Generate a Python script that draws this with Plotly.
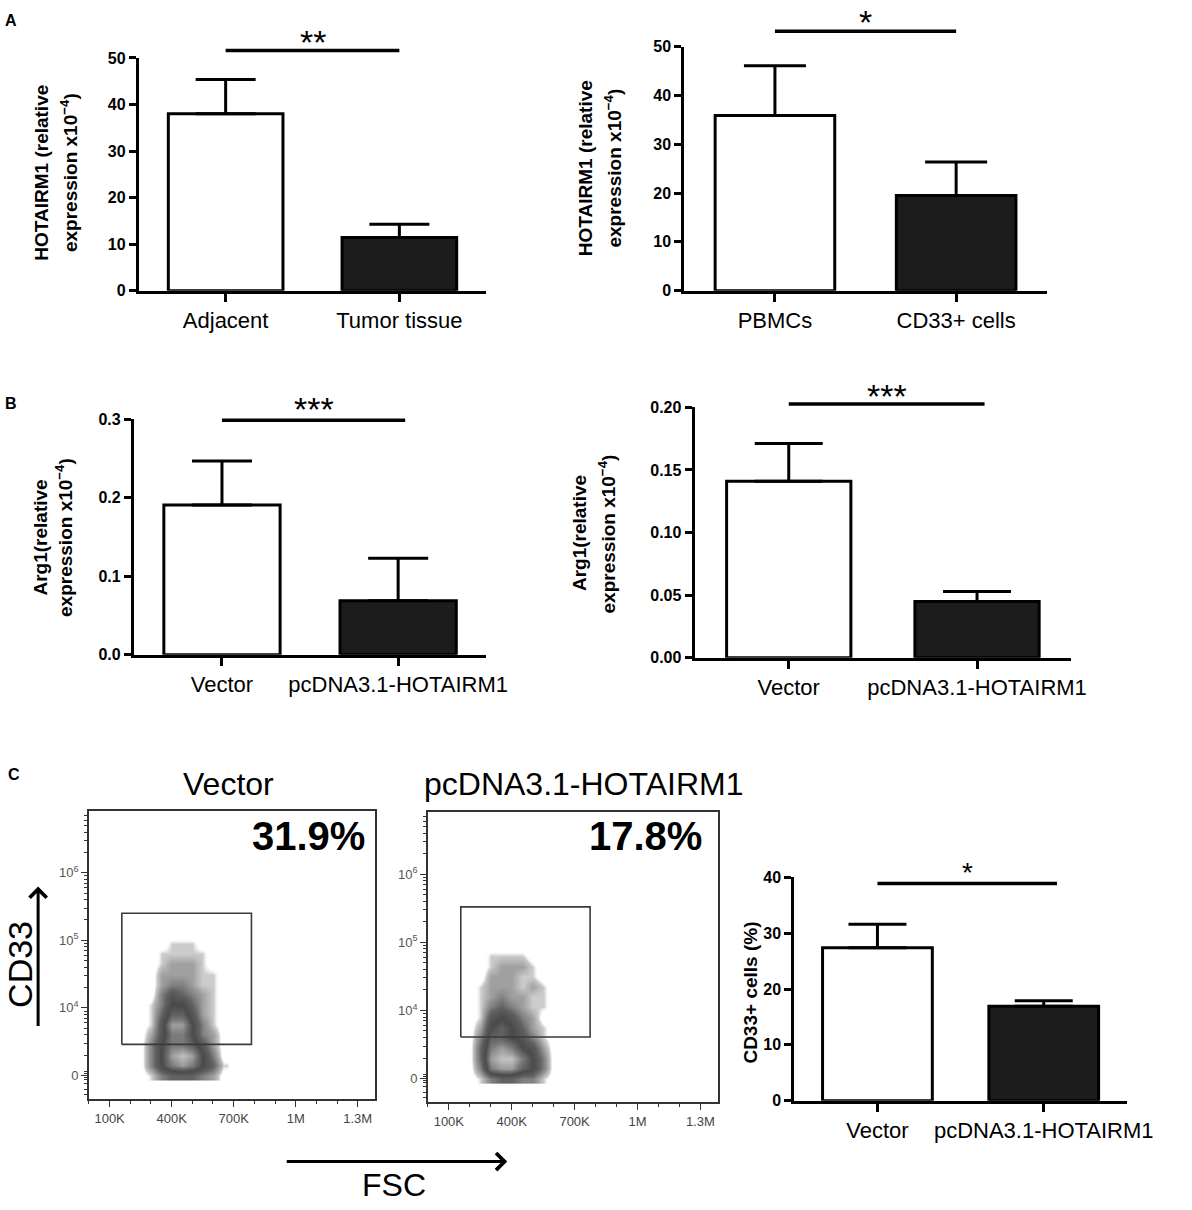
import math
import plotly.graph_objects as go

# ---------------- data ----------------
A1_CATS = ["Adjacent", "Tumor tissue"]
A1_MEAN = [38.0, 11.4]
A1_ERR = [7.4, 2.9]

A2_CATS = ["PBMCs", "CD33+ cells"]
A2_MEAN = [35.9, 19.5]
A2_ERR = [10.2, 6.9]

B_CATS = ["Vector", "pcDNA3.1-HOTAIRM1"]
B1_MEAN = [0.191, 0.069]
B1_ERR = [0.056, 0.054]
B2_MEAN = [0.141, 0.045]
B2_ERR = [0.030, 0.008]

C_CATS = ["Vector", "pcDNA3.1-HOTAIRM1"]
C_MEAN = [27.4, 16.9]
C_ERR = [4.2, 1.0]

SIG_LABELS = ["**", "*", "***", "***", "*"]
SIG_HEIGHT = [51.6, 53.2, 0.299, 0.2026, 38.9]
SIG_FROM = [0, 0, 0, 0, 0]
SIG_TO = [1, 1, 1.04, 1.04, 1.08]
STAR_HEIGHT = [53.5, 55.1, 0.313, 0.2087, 40.8]

Y_TITLES = [
    ["HOTAIRM1 (relative", "expression x10<sup>−4</sup>)"],
    ["HOTAIRM1 (relative", "expression x10<sup>−4</sup>)"],
    ["Arg1(relative", "expression x10<sup>−4</sup>)"],
    ["Arg1(relative", "expression x10<sup>−4</sup>)"],
    ["CD33+ cells (%)"],
]

FLOW_TITLES = ["Vector", "pcDNA3.1-HOTAIRM1"]
FLOW_PERCENT = ["31.9%", "17.8%"]
FSC_TICKS = [1e5, 4e5, 7e5, 1e6, 1.3e6]
FSC_TICK_LABELS = ["100K", "400K", "700K", "1M", "1.3M"]
CD33_TICKS = [3, 4, 5, 6]
CD33_TICK_LABELS = ["0", "10<sup>4</sup>", "10<sup>5</sup>", "10<sup>6</sup>"]

GATE_FSC = [[159e3, 786e3], [157e3, 774e3]]
GATE_CD33 = [[3.46, 5.40], [3.61, 5.52]]

# estimated event density of the dot clouds (rows: CD33 display level, cols: FSC)
VEC_FSC = [250e3, 300e3, 350e3, 400e3, 450e3, 500e3, 550e3, 600e3, 650e3]
VEC_CD33 = [3.00, 3.15, 3.30, 3.45, 3.60, 3.75, 3.90, 4.05, 4.20, 4.35, 4.50, 4.65, 4.80, 4.95, 5.10]
VEC_DENSITY = [
    [0, 1, 3, 4, 4, 4, 3, 2, 0],
    [0, 3, 6, 8, 9, 8, 6, 4, 1],
    [0, 3, 6, 9, 10, 9, 6, 3, 0],
    [0, 3, 6, 8, 8, 7, 5, 2, 0],
    [0, 2, 5, 8, 8, 6, 3, 2, 0],
    [0, 1, 5, 9, 9, 6, 3, 1, 0],
    [0, 1, 4, 7, 7, 5, 2, 1, 0],
    [0, 1, 3, 6, 6, 4, 2, 1, 0],
    [0, 0, 3, 5, 4, 3, 2, 1, 0],
    [0, 0, 2, 3, 3, 2, 1, 1, 0],
    [0, 0, 2, 2, 2, 2, 1, 1, 0],
    [0, 0, 1, 2, 2, 2, 1, 0, 0],
    [0, 0, 1, 1, 1, 1, 1, 0, 0],
    [0, 0, 0, 1, 1, 1, 0, 0, 0],
    [0, 0, 0, 0, 0, 0, 0, 0, 0],
]
HOT_FSC = [200e3, 250e3, 300e3, 350e3, 400e3, 450e3, 500e3, 550e3, 600e3]
HOT_CD33 = [3.00, 3.15, 3.30, 3.45, 3.60, 3.75, 3.90, 4.05, 4.20, 4.35, 4.50, 4.65, 4.80, 4.95]
HOT_DENSITY = [
    [0, 1, 3, 4, 4, 3, 3, 1, 0],
    [0, 3, 8, 9, 9, 7, 6, 3, 0],
    [0, 4, 9, 10, 10, 8, 6, 3, 0],
    [0, 4, 8, 9, 8, 6, 5, 2, 0],
    [0, 3, 7, 7, 6, 5, 3, 1, 0],
    [0, 2, 6, 7, 6, 4, 2, 1, 0],
    [0, 1, 5, 6, 5, 3, 2, 0, 0],
    [0, 1, 3, 4, 3, 2, 1, 1, 0],
    [0, 1, 2, 3, 2, 2, 1, 1, 0],
    [0, 1, 2, 2, 2, 1, 2, 1, 0],
    [0, 0, 2, 2, 2, 1, 1, 0, 0],
    [0, 0, 1, 2, 2, 2, 1, 0, 0],
    [0, 0, 1, 1, 1, 1, 0, 0, 0],
    [0, 0, 0, 0, 0, 0, 0, 0, 0],
]

# ---------------- layout helpers ----------------
W, H = 1192, 1210
FONT = "Liberation Sans, Arial, Helvetica, sans-serif"


def fx(p):
    return p / W


def fy(p):
    return 1 - p / H


fig = go.Figure()
layout = dict(
    width=W, height=H, margin=dict(l=0, r=0, t=0, b=0),
    paper_bgcolor="white", plot_bgcolor="rgba(0,0,0,0)",
    showlegend=False, font=dict(family=FONT, color="black"),
)
annotations = []

# panel pixel geometry: x extent of axis, y pixel of 0 and of top tick, overlay top
PANELS = [
    dict(cats=A1_CATS, mean=A1_MEAN, err=A1_ERR, xpx=(142, 497.5), ypx=(286.7, 50.7), ovtop=2,
         ymax=50, dtick=10, fmt="d", cap=30, tx=[43, 70], ty=167, star=34),
    dict(cats=A2_CATS, mean=A2_MEAN, err=A2_ERR, xpx=(700.2, 1071), ypx=(286.7, 39.3), ovtop=1,
         ymax=50, dtick=10, fmt="d", cap=31, tx=[599, 627], ty=162, star=34),
    dict(cats=B_CATS, mean=B1_MEAN, err=B1_ERR, xpx=(137, 497.5), ypx=(656, 417.3), ovtop=375,
         ymax=0.3, dtick=0.1, fmt=".1f", cap=30, tx=[41, 66], ty=537, star=34),
    dict(cats=B_CATS, mean=B2_MEAN, err=B2_ERR, xpx=(710.7, 1096), ypx=(659, 405), ovtop=362,
         ymax=0.2, dtick=0.05, fmt=".2f", cap=34, tx=[593, 621], ty=533, star=34),
    dict(cats=C_CATS, mean=C_MEAN, err=C_ERR, xpx=(812.7, 1153), ypx=(1108.3, 881.7), ovtop=850,
         ymax=40, dtick=10, fmt="d", cap=29, tx=[768], ty=999, star=28),
]

for i, p in enumerate(PANELS):
    k = i + 1
    ko = i + 6
    xd = [fx(p["xpx"][0]), fx(p["xpx"][1])]
    yd = [fy(p["ypx"][0]), fy(p["ypx"][1])]
    fig.add_trace(go.Bar(
        x=p["cats"], y=p["mean"], width=0.66,
        marker=dict(color=["white", "#1c1c1c"], line=dict(color="black", width=3)),
        error_y=dict(type="data", array=p["err"], arrayminus=[0, 0], symmetric=False,
                     thickness=3, width=p["cap"], color="black"),
        xaxis=f"x{k}", yaxis=f"y{k}", hoverinfo="skip",
    ))
    layout[f"xaxis{k}"] = dict(
        domain=xd, anchor=f"y{k}", type="category", range=[-0.5, 1.5],
        showline=True, linecolor="black", linewidth=3,
        ticks="outside", ticklen=8, tickwidth=3, tickcolor="black",
        tickfont=dict(size=22, family=FONT, color="black"),
        showgrid=False, zeroline=False, fixedrange=True,
    )
    layout[f"yaxis{k}"] = dict(
        domain=yd, anchor=f"x{k}", range=[0, p["ymax"]],
        tickmode="linear", tick0=0, dtick=p["dtick"], tickformat=p["fmt"],
        showline=True, linecolor="black", linewidth=3,
        ticks="outside", ticklen=7, tickwidth=3, tickcolor="black",
        tickfont=dict(size=16, family=FONT, color="black", weight="bold"),
        showgrid=False, zeroline=False, fixedrange=True,
    )
    # overlay subplot with identical scale, reaching above the axis for the significance bar
    ov_dom = [yd[0], fy(p["ovtop"])]
    ov_max = p["ymax"] * (ov_dom[1] - ov_dom[0]) / (yd[1] - yd[0])
    layout[f"xaxis{ko}"] = dict(domain=xd, anchor=f"y{ko}", range=[-0.5, 1.5], visible=False,
                                fixedrange=True)
    layout[f"yaxis{ko}"] = dict(domain=ov_dom, anchor=f"x{ko}", range=[0, ov_max], visible=False,
                                fixedrange=True)
    fig.add_trace(go.Scatter(
        x=[SIG_FROM[i], SIG_TO[i]], y=[SIG_HEIGHT[i], SIG_HEIGHT[i]], mode="lines",
        line=dict(color="black", width=3.5), xaxis=f"x{ko}", yaxis=f"y{ko}", hoverinfo="skip",
    ))
    annotations.append(dict(
        text=SIG_LABELS[i], xref=f"x{ko}", yref=f"y{ko}",
        x=(SIG_FROM[i] + SIG_TO[i]) / 2, y=STAR_HEIGHT[i],
        xanchor="center", yanchor="middle", showarrow=False,
        font=dict(size=p["star"], family=FONT, color="black"),
    ))
    for line_text, tx in zip(Y_TITLES[i], p["tx"]):
        annotations.append(dict(
            text=f"<b>{line_text}</b>", xref="paper", yref="paper",
            x=fx(tx), y=fy(p["ty"]), xanchor="center", yanchor="middle",
            textangle=-90, showarrow=False, font=dict(size=19, family=FONT, color="black"),
        ))

# ---------------- flow cytometry dot plots ----------------
FLOW_GEOM = [
    dict(xpx=(91, 384), ypx=(1106.7, 814), title_x=234, pct_x=376),
    dict(xpx=(437.8, 734.8), ypx=(1110, 815), title_x=597, pct_x=720),
]
FLOW_DATA = [(VEC_FSC, VEC_CD33, VEC_DENSITY), (HOT_FSC, HOT_CD33, HOT_DENSITY)]

minor_y = [2.72, 2.8, 2.88, 2.94, 2.97, 3.03, 3.06]
for d in (3, 4, 5, 6):
    for m in range(2, 10):
        v = d + math.log10(m)
        if v < 6.9:
            minor_y.append(v)

GRAY_SCALE = [
    [0.0, "rgba(255,255,255,0)"], [0.05, "rgba(255,255,255,0)"],
    [0.1, "#cccccc"], [0.2, "#a0a0a0"], [0.4, "#626262"],
    [0.6, "#4a4a4a"], [0.8, "#7a7a7a"], [1.0, "#c2c2c2"],
]

for j, g in enumerate(FLOW_GEOM):
    k = 11 + j
    xs, ys, z = FLOW_DATA[j]
    fig.add_trace(go.Heatmap(
        x=xs, y=ys, z=z, zmin=0, zmax=10, colorscale=GRAY_SCALE, zsmooth="best",
        showscale=False, xaxis=f"x{k}", yaxis=f"y{k}", hoverinfo="skip",
    ))
    gx, gy = GATE_FSC[j], GATE_CD33[j]
    fig.add_trace(go.Scatter(
        x=[gx[0], gx[1], gx[1], gx[0], gx[0]], y=[gy[0], gy[0], gy[1], gy[1], gy[0]],
        mode="lines", line=dict(color="#3a3a3a", width=1.6),
        xaxis=f"x{k}", yaxis=f"y{k}", hoverinfo="skip",
    ))
    layout[f"xaxis{k}"] = dict(
        domain=[fx(g["xpx"][0]), fx(g["xpx"][1])], anchor=f"y{k}", range=[0, 1.385e6],
        showline=True, mirror=True, linecolor="#333", linewidth=1.5,
        tickmode="array", tickvals=FSC_TICKS, ticktext=FSC_TICK_LABELS,
        ticks="outside", ticklen=6, tickwidth=1.2, tickcolor="#333",
        tickfont=dict(size=13, family=FONT, color="#444"),
        minor=dict(tickmode="linear", tick0=0, dtick=1e5, ticks="outside", ticklen=3,
                   tickcolor="#333", tickwidth=1),
        showgrid=False, zeroline=False, fixedrange=True,
    )
    layout[f"yaxis{k}"] = dict(
        domain=[fy(g["ypx"][0]), fy(g["ypx"][1])], anchor=f"x{k}", range=[2.65, 6.92],
        showline=True, mirror=True, linecolor="#333", linewidth=1.5,
        tickmode="array", tickvals=CD33_TICKS, ticktext=CD33_TICK_LABELS,
        ticks="outside", ticklen=6, tickwidth=1.2, tickcolor="#333",
        tickfont=dict(size=13, family=FONT, color="#555"),
        minor=dict(tickmode="array", tickvals=minor_y, ticks="outside", ticklen=3,
                   tickcolor="#333", tickwidth=1),
        showgrid=False, zeroline=False, fixedrange=True,
    )
    annotations.append(dict(
        text=FLOW_TITLES[j], xref="paper", yref="paper", x=fx(g["title_x"]), y=fy(787),
        xanchor="center", yanchor="middle", showarrow=False,
        font=dict(size=32, family=FONT, color="black"),
    ))
    annotations.append(dict(
        text=f"<b>{FLOW_PERCENT[j]}</b>", xref="paper", yref="paper", x=fx(g["pct_x"]), y=fy(840),
        xanchor="right", yanchor="middle", showarrow=False,
        font=dict(size=40, family=FONT, color="black"),
    ))

# axis names and arrows of the dot plots
annotations.append(dict(
    text="CD33", xref="paper", yref="paper", x=fx(21), y=fy(970), xanchor="center",
    yanchor="middle", textangle=-90, showarrow=False, font=dict(size=34, family=FONT, color="black"),
))
annotations.append(dict(
    text="FSC", xref="paper", yref="paper", x=fx(403), y=fy(1194), xanchor="center",
    yanchor="middle", showarrow=False, font=dict(size=32, family=FONT, color="black"),
))
annotations.append(dict(
    text="", xref="paper", yref="paper", x=fx(39), y=fy(891), ax=0, ay=141,
    showarrow=True, arrowhead=4, arrowsize=1.1, arrowwidth=3, arrowcolor="black",
))
annotations.append(dict(
    text="", xref="paper", yref="paper", x=fx(519), y=fy(1170), ax=-222, ay=0,
    showarrow=True, arrowhead=4, arrowsize=1.1, arrowwidth=3, arrowcolor="black",
))

# panel letters
for letter, (lx, ly) in zip(["A", "B", "C"], [(11.5, 13), (11.5, 401), (14, 777)]):
    annotations.append(dict(
        text=f"<b>{letter}</b>", xref="paper", yref="paper", x=fx(lx), y=fy(ly),
        xanchor="center", yanchor="middle", showarrow=False,
        font=dict(size=16, family=FONT, color="black"),
    ))

layout["annotations"] = annotations
fig.update_layout(**layout)
fig.write_html(
    "out.html",
    config={"displayModeBar": False},
    post_script="document.body.style.margin='0';document.body.style.padding='0';",
)
